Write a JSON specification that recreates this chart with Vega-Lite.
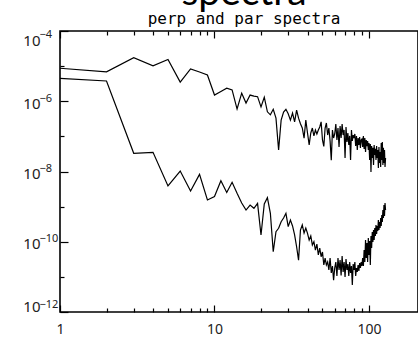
{
  "$schema": "https://vega.github.io/schema/vega-lite/v6.json",
  "width": 358,
  "height": 281,
  "autosize": {"type": "none"},
  "padding": {"left": 60, "top": 31, "right": 0, "bottom": 26},
  "background": "white",
  "config": {
    "view": {"stroke": "black", "strokeWidth": 1.6},
    "axis": {"grid": false, "domain": false, "tickColor": "black", "tickWidth": 1.2, "title": null, "labelOverlap": false}
  },
  "title": {
    "text": "spectra",
    "subtitle": "perp and par spectra",
    "anchor": "middle",
    "frame": "group",
    "dx": 5,
    "offset": 1,
    "font": "Lato",
    "fontSize": 39,
    "fontWeight": "normal",
    "color": "black",
    "subtitleFont": "DejaVu Sans Mono",
    "subtitleFontSize": 16,
    "subtitleColor": "black",
    "subtitlePadding": -2
  },
  "datasets": {
    "perp": [
      {"k":1,"p":8.7e-6},{"k":2,"p":6.9e-6},{"k":3,"p":1.74e-5},{"k":4,"p":1.02e-5},{"k":5,"p":1.55e-5},
      {"k":6,"p":3.5e-6},{"k":7,"p":8.3e-6},{"k":8,"p":6.8e-6},{"k":9,"p":5.6e-6},{"k":10,"p":1.5e-6},
      {"k":11,"p":1.9e-6},{"k":12,"p":2.35e-6},{"k":13,"p":2.1e-6},{"k":14,"p":6.0e-7},{"k":15,"p":1.7e-6},
      {"k":16,"p":8.9e-7},{"k":17,"p":1.5e-6},{"k":18,"p":1.4e-6},{"k":19,"p":1.35e-6},{"k":20,"p":6.9e-7},
      {"k":21,"p":1.3e-6},{"k":22,"p":5.0e-7},{"k":23,"p":4.1e-7},{"k":24,"p":5.9e-7},{"k":25,"p":3.3e-7},
      {"k":26,"p":4.1e-8},{"k":27,"p":2.9e-7},{"k":28,"p":4.9e-7},{"k":29,"p":5.9e-7},{"k":30,"p":4.4e-7},
      {"k":31,"p":2.9e-7},{"k":32,"p":4.6e-7},{"k":33,"p":2.6e-7},{"k":34,"p":5.6e-7},{"k":35,"p":3.3e-7},
      {"k":36,"p":2.3e-7},{"k":37,"p":1.73e-7},{"k":38,"p":8.9e-8},{"k":39,"p":2.9e-7},{"k":40,"p":1.25e-7},
      {"k":41,"p":5.7e-8},{"k":42,"p":1.25e-7},{"k":43,"p":1.73e-7},{"k":44,"p":1.03e-7},{"k":45,"p":1.52e-7},
      {"k":46,"p":1.17e-7},{"k":47,"p":1.52e-7},{"k":48,"p":1.85e-7},{"k":49,"p":2.6e-7},{"k":50,"p":7.9e-8},
      {"k":51,"p":5.2e-8},{"k":52,"p":1.73e-7},{"k":53,"p":2.4e-7},{"k":54,"p":1.09e-7},{"k":55,"p":1.73e-7},
      {"k":56,"p":7.4e-8},{"k":57,"p":2.1e-8},{"k":58,"p":1.52e-7},{"k":59,"p":9.0e-8},{"k":60,"p":1.17e-7},
      {"k":61,"p":2.25e-7},{"k":62,"p":7.9e-8},{"k":63,"p":1.73e-7},{"k":64,"p":5.0e-8},{"k":65,"p":1.97e-7},
      {"k":66,"p":9.0e-8},{"k":67,"p":2.25e-7},{"k":68,"p":1.09e-7},{"k":69,"p":1.52e-7},{"k":70,"p":2.42e-8},
      {"k":71,"p":1.85e-7},{"k":72,"p":6.9e-8},{"k":73,"p":1.25e-7},{"k":74,"p":5.7e-8},{"k":75,"p":1.03e-7},
      {"k":76,"p":2.12e-8},{"k":77,"p":1.52e-7},{"k":78,"p":7.4e-8},{"k":79,"p":1.09e-7},{"k":80,"p":9.0e-8},
      {"k":81,"p":1.17e-7},{"k":82,"p":5.3e-8},{"k":83,"p":1.03e-7},{"k":84,"p":4.1e-8},{"k":85,"p":9.0e-8},
      {"k":86,"p":5.7e-8},{"k":87,"p":9.6e-8},{"k":88,"p":4.7e-8},{"k":89,"p":7.9e-8},{"k":90,"p":8.4e-8},
      {"k":91,"p":5.0e-8},{"k":92,"p":1.03e-7},{"k":93,"p":4.4e-8},{"k":94,"p":9.0e-8},{"k":95,"p":3.6e-8},
      {"k":96,"p":7.9e-8},{"k":97,"p":5.3e-8},{"k":98,"p":7.4e-8},{"k":99,"p":4.1e-8},{"k":100,"p":6.5e-8},
      {"k":101,"p":2.12e-8},{"k":102,"p":6.1e-8},{"k":103,"p":9.7e-9},{"k":104,"p":5.3e-8},{"k":105,"p":2.42e-8},
      {"k":106,"p":4.7e-8},{"k":107,"p":1.53e-8},{"k":108,"p":5.7e-8},{"k":109,"p":2.95e-8},{"k":110,"p":4.4e-8},
      {"k":111,"p":2.12e-8},{"k":112,"p":5.3e-8},{"k":113,"p":2.42e-8},{"k":114,"p":4.1e-8},{"k":115,"p":1.26e-8},
      {"k":116,"p":5.0e-8},{"k":117,"p":1.75e-8},{"k":118,"p":3.6e-8},{"k":119,"p":1.34e-8},{"k":120,"p":6.5e-8},
      {"k":121,"p":2.12e-8},{"k":122,"p":6.9e-8},{"k":123,"p":1.53e-8},{"k":124,"p":4.7e-8},{"k":125,"p":1.75e-8},
      {"k":126,"p":4.1e-8},{"k":127,"p":1.34e-8},{"k":128,"p":2.42e-8}
    ],
    "par": [
      {"k":1,"p":4.5e-6},{"k":2,"p":3.78e-6},{"k":3,"p":3.3e-8},{"k":4,"p":3.52e-8},{"k":5,"p":3.87e-9},
      {"k":6,"p":1.03e-8},{"k":7,"p":2.79e-9},{"k":8,"p":8.3e-9},{"k":9,"p":1.55e-9},{"k":10,"p":1.94e-9},
      {"k":11,"p":5.47e-9},{"k":12,"p":2.52e-9},{"k":13,"p":4.93e-9},{"k":14,"p":2.39e-9},{"k":15,"p":1.27e-9},
      {"k":16,"p":8.0e-10},{"k":17,"p":1.11e-9},{"k":18,"p":8.95e-10},{"k":19,"p":1.24e-9},{"k":20,"p":1.56e-10},
      {"k":21,"p":1.19e-9},{"k":22,"p":1.8e-9},{"k":23,"p":6.46e-10},{"k":24,"p":5.2e-11},{"k":25,"p":1.93e-10},
      {"k":26,"p":2.42e-10},{"k":27,"p":3.72e-10},{"k":28,"p":4.75e-10},{"k":29,"p":6.46e-10},{"k":30,"p":2.69e-10},
      {"k":31,"p":4.16e-10},{"k":32,"p":2.81e-10},{"k":33,"p":1.56e-10},{"k":34,"p":7.2e-11},{"k":35,"p":3.0e-11},
      {"k":36,"p":2.16e-10},{"k":37,"p":3.0e-10},{"k":38,"p":1.77e-10},{"k":39,"p":2.46e-10},{"k":40,"p":1.74e-10},
      {"k":41,"p":1.12e-10},{"k":42,"p":1.46e-10},{"k":43,"p":8.1e-11},{"k":44,"p":1.0e-10},{"k":45,"p":5.8e-11},
      {"k":46,"p":8.6e-11},{"k":47,"p":4.2e-11},{"k":48,"p":6.6e-11},{"k":49,"p":3.75e-11},{"k":50,"p":5.1e-11},
      {"k":51,"p":2.18e-11},{"k":52,"p":3.44e-11},{"k":53,"p":2.18e-11},{"k":54,"p":2.65e-11},{"k":55,"p":1.57e-11},
      {"k":56,"p":3.44e-11},{"k":57,"p":1.29e-11},{"k":58,"p":2.04e-11},{"k":59,"p":8.1e-12},{"k":60,"p":1.79e-11},
      {"k":61,"p":2.65e-11},{"k":62,"p":1.06e-11},{"k":63,"p":3.44e-11},{"k":64,"p":1.57e-11},{"k":65,"p":3.0e-11},
      {"k":66,"p":1.1e-11},{"k":67,"p":3.93e-11},{"k":68,"p":1.38e-11},{"k":69,"p":2.65e-11},{"k":70,"p":9.9e-12},
      {"k":71,"p":3.23e-11},{"k":72,"p":1.57e-11},{"k":73,"p":2.33e-11},{"k":74,"p":1.06e-11},{"k":75,"p":2.65e-11},
      {"k":76,"p":1.29e-11},{"k":77,"p":2.04e-11},{"k":78,"p":5.9e-12},{"k":79,"p":2.33e-11},{"k":80,"p":1.57e-11},
      {"k":81,"p":2.65e-11},{"k":82,"p":1.06e-11},{"k":83,"p":1.79e-11},{"k":84,"p":1.38e-11},{"k":85,"p":2.18e-11},
      {"k":86,"p":1.47e-11},{"k":87,"p":2.48e-11},{"k":88,"p":1.79e-11},{"k":89,"p":2.65e-11},{"k":90,"p":2.04e-11},
      {"k":91,"p":3.44e-11},{"k":92,"p":2.04e-11},{"k":93,"p":5.8e-11},{"k":94,"p":2.65e-11},{"k":95,"p":1.12e-10},
      {"k":96,"p":3.44e-11},{"k":97,"p":9.2e-11},{"k":98,"p":2.65e-11},{"k":99,"p":1.28e-10},{"k":100,"p":4.2e-11},
      {"k":101,"p":1.05e-10},{"k":102,"p":2.18e-11},{"k":103,"p":1.46e-10},{"k":104,"p":6.6e-11},{"k":105,"p":1.9e-10},
      {"k":106,"p":9.8e-11},{"k":107,"p":2.16e-10},{"k":108,"p":1.12e-10},{"k":109,"p":2.46e-10},{"k":110,"p":1.46e-10},
      {"k":111,"p":3.0e-10},{"k":112,"p":1.66e-10},{"k":113,"p":2.81e-10},{"k":114,"p":2.02e-10},{"k":115,"p":4.16e-10},
      {"k":116,"p":2.16e-10},{"k":117,"p":3.65e-10},{"k":118,"p":2.46e-10},{"k":119,"p":4.75e-10},{"k":120,"p":2.81e-10},
      {"k":121,"p":5.8e-10},{"k":122,"p":3.65e-10},{"k":123,"p":8.0e-10},{"k":124,"p":4.75e-10},{"k":125,"p":1.11e-9},
      {"k":126,"p":5.4e-10},{"k":127,"p":1.27e-9},{"k":128,"p":8.0e-10}
    ]
  },
  "layer": [
    {
      "data": {"name": "perp"},
      "mark": {"type": "line", "color": "black", "strokeWidth": 1.2, "clip": true},
      "encoding": {
        "x": {
          "field": "k", "type": "quantitative",
          "scale": {"type": "log", "domain": [1, 207.6], "nice": false},
          "axis": {
            "orient": "bottom",
            "values": [1,2,3,4,5,6,7,8,9,10,20,30,40,50,60,70,80,90,100],
            "tickSize": {"condition": {"test": "datum.value == 1 || datum.value == 10 || datum.value == 100", "value": -7}, "value": -4},
            "labelExpr": "datum.value == 1 ? '1' : datum.value == 10 ? '10' : datum.value == 100 ? '100' : ''",
            "labelFont": "Noto Sans",
            "labelFontSize": 14,
            "labelColor": "#222",
            "labelFlush": false,
            "labelPadding": 17
          }
        },
        "y": {
          "field": "p", "type": "quantitative",
          "scale": {"type": "log", "domain": [1e-12, 1e-4], "nice": false},
          "axis": {
            "orient": "left",
            "values": [1e-12,1e-11,1e-10,1e-9,1e-8,1e-7,1e-6,1e-5,1e-4],
            "tickSize": {"condition": {"test": "round(log(datum.value) / LN10) % 2 == 0", "value": -8}, "value": -4},
            "labelExpr": "round(log(datum.value) / LN10) % 2 == 0 ? '10' : ''",
            "labelFont": "Noto Sans",
            "labelFontSize": 15,
            "labelColor": "#222",
            "labelFlush": true,
            "labelOffset": 2,
            "labelPadding": 28
          }
        }
      }
    },
    {
      "data": {"name": "par"},
      "mark": {"type": "line", "color": "black", "strokeWidth": 1.2, "clip": true},
      "encoding": {
        "x": {
          "field": "k", "type": "quantitative",
          "axis": {
            "orient": "top",
            "values": [1,2,3,4,5,6,7,8,9,10,20,30,40,50,60,70,80,90,100],
            "tickSize": {"condition": {"test": "datum.value == 1 || datum.value == 10 || datum.value == 100", "value": -7}, "value": -4},
            "labels": false
          }
        },
        "y": {
          "field": "p", "type": "quantitative",
          "axis": {
            "orient": "left",
            "values": [1e-12,1e-10,1e-8,1e-6,1e-4],
            "ticks": false,
            "labelExpr": "'−' + format(-round(log(datum.value) / LN10), 'd')",
            "labelFont": "Noto Sans",
            "labelFontSize": 11,
            "labelColor": "#222",
            "labelAlign": "left",
            "labelFlush": true,
            "labelOffset": -3,
            "labelPadding": 21
          }
        }
      }
    }
  ],
  "resolve": {"axis": {"x": "independent", "y": "independent"}}
}
